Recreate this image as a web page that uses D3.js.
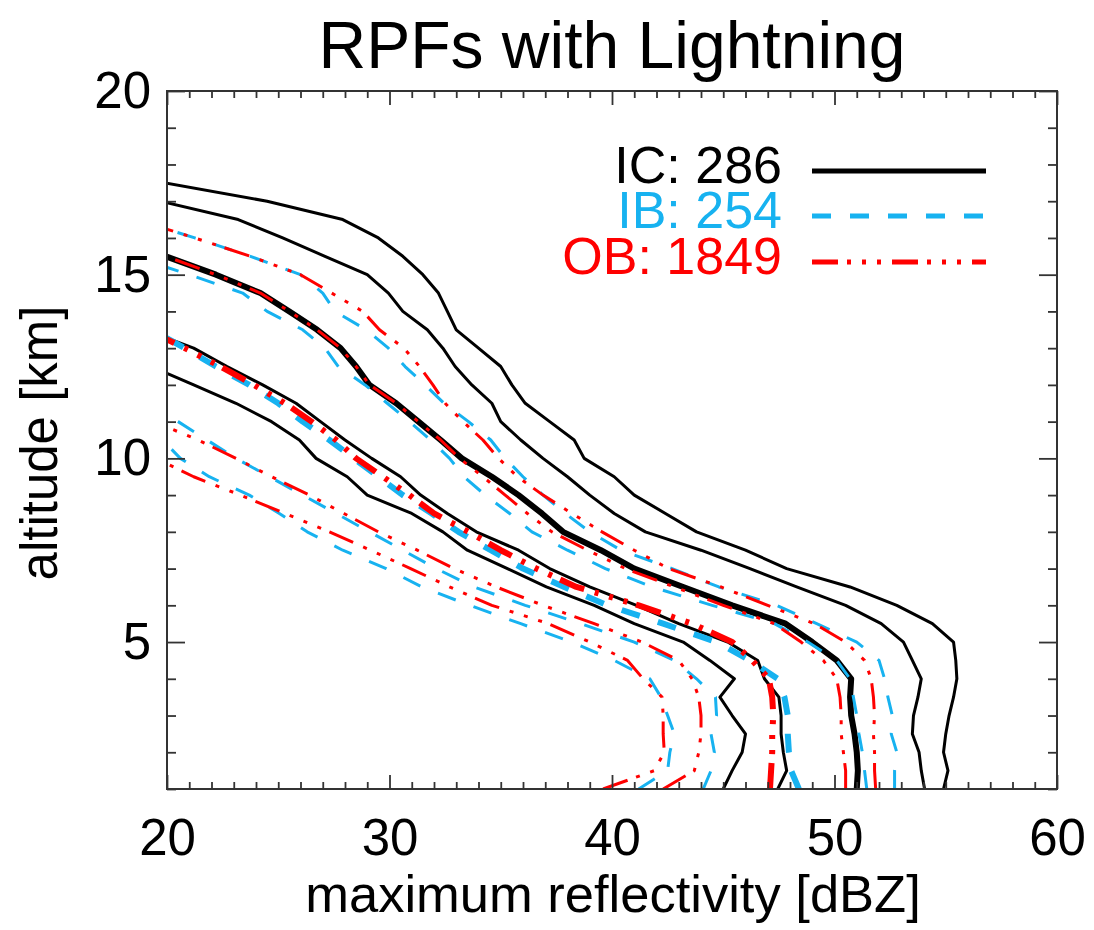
<!DOCTYPE html>
<html><head><meta charset="utf-8">
<script src="https://cdn.jsdelivr.net/npm/d3@7"></script>
<style>
html,body{margin:0;padding:0;background:#fff;}
svg{display:block;}
text{font-family:"Liberation Sans",Arial,Helvetica,sans-serif;}
</style></head><body>
<svg id="chart" width="1094" height="930"></svg>
<script>
// ---------------- data ----------------
const altitudes = [1,1.5,2,2.5,3,3.5,4,4.5,5,5.5,6,6.5,7,7.5,8,8.5,9,9.5,10,10.5,11,11.5,12,12.5,13,13.5,14,14.5,15,15.5,16,16.5,17,17.5];

// IC percentiles (dBZ at each altitude)
const ic90 = [54.9,55.1,54.9,55.0,55.15,55.35,55.5,55.45,55.35,54.4,52.8,50.7,47.85,46.0,43.8,42.4,41.0,40.1,38.75,38.3,37.2,36.1,35.5,35.0,34.0,33.0,32.6,32.2,31.5,30.6,29.5,27.9,24.5,19.9];
const ic75 = [54.05,53.9,53.8,53.5,53.55,53.75,53.9,53.5,53.1,52.1,50.5,48.3,46.2,44.0,41.5,40.1,39.0,38.0,36.9,35.9,35.0,34.6,33.7,32.95,32.4,31.7,30.6,29.95,29.0,27.1,25.2,23.2,19.7];
const ic50 = [51.0,51.05,51.0,50.9,50.75,50.7,50.75,50.1,49.0,47.8,45.4,43.2,41.0,39.5,37.8,36.85,35.8,34.6,33.25,32.3,31.3,30.3,29.1,28.5,27.8,26.75,25.5,24.2,22.2,19.95];
const ic25 = [47.45,47.85,47.7,47.6,47.6,47.5,46.85,46.55,45.2,43.0,41.1,39.0,37.2,35.8,33.9,32.6,31.4,30.5,29.2,28.0,26.9,25.8,24.3,22.7,21.2,19.0];
const ic10 = [45.0,45.4,45.85,46.0,45.4,44.85,45.5,44.4,43.2,41.0,39.2,37.05,35.3,33.5,32.4,31.0,29.0,28.1,26.7,25.95,24.7,23.1,21.2,19.3];

// IB percentiles
const ib90 = [52.7,52.7,52.8,52.55,52.6,52.4,52.25,52.0,51.0,49.2,47.4,44.8,42.7,40.4,39.0,37.9,36.9,36.0,35.2,34.55,33.55,32.45,31.6,30.7,29.95,28.95,27.55,27.0,26.0,23.75,21.25,18.6];
const ib75 = [51.45,51.35,51.25,51.1,51.0,50.85,50.7,50.1,48.8,47.3,44.5,41.8,39.7,38.0,36.4,35.4,34.3,33.35,32.7,31.85,30.9,29.9,28.9,27.7,27.1,26.1,24.5,23.4,21.0,18.5];
const ib50 = [48.4,48.05,47.95,47.9,47.9,47.75,47.45,46.2,44.7,42.3,39.8,37.85,36.0,34.55,33.1,31.9,30.6,29.5,28.4,27.3,26.1,25.0,23.7,22.2,20.8,19.3];
const ib25 = [44.1,44.45,44.6,44.45,44.7,44.65,43.8,42.8,41.0,38.6,36.1,33.8,32.1,30.6,29.1,27.6,26.1,24.6,23.1,21.8,20.5,18.9];
const ib10 = [41.2,42.5,42.6,42.8,42.5,42.2,41.7,40.1,38.2,35.9,33.6,31.45,29.85,27.9,26.3,25.05,23.7,21.9,20.6,19.8];

// OB percentiles
const ob90 = [51.85,51.8,51.8,51.75,51.8,51.75,51.65,51.35,50.5,49.1,47.0,44.9,42.55,41.0,39.55,38.2,36.9,35.75,34.9,34.2,33.3,32.5,31.95,31.35,30.65,29.55,28.8,27.4,26.0,23.75,21.25,18.6];
const ob75 = [50.5,50.5,50.4,50.3,50.3,50.25,50.1,49.5,48.5,47.3,45.0,42.8,40.6,38.9,37.3,36.2,35.2,34.2,33.15,32.3,31.3,30.3,29.1,28.5,27.8,26.75,25.5,24.2,22.2,19.95];
const ob50 = [47.1,47.15,47.2,47.2,47.25,47.2,47.05,46.3,45.4,43.6,41.2,38.4,36.6,35.0,33.55,32.0,30.9,29.7,28.5,27.6,26.5,25.3,23.9,22.4,20.8,19.1];
const ob25 = [42.3,43.7,43.9,44.0,44.0,43.9,43.6,43.0,41.35,39.2,36.9,34.8,32.9,31.25,29.5,27.95,26.4,24.7,23.1,21.4,19.4];
const ob10 = [39.6,41.9,42.35,42.3,42.3,42.25,41.4,40.7,39.0,37.15,34.6,32.7,30.95,29.15,27.3,25.3,23.3,21.2,19.5];

const categories = ["IC","IB","OB"];
const counts = [286,254,1849];
const percentiles = [10,25,50,75,90];
const xTickValues = [20,30,40,50,60];
const yTickValues = [5,10,15,20];

// ---------------- layout / style ----------------
const plot = {left:167, right:1057, top:91, bottom:789};
const style = {
  IC:{color:"#000000", dash:null},
  IB:{color:"#17b2f0", dash:"19,19"},
  OB:{color:"#ff0000", dash:"26,9,4,11,4,11,4,11"}
};
const seriesByCat = {
  IC:[ic10,ic25,ic75,ic90,ic50],
  IB:[ib10,ib25,ib75,ib90,ib50],
  OB:[ob10,ob25,ob75,ob90,ob50]
};
const pctOrder = [10,25,75,90,50];

const svg = d3.select("#chart");
const x = d3.scaleLinear().domain([20,60]).range([plot.left, plot.right]);
const y = d3.scaleLinear().domain([1,20]).range([plot.bottom, plot.top]);

svg.append("defs").append("clipPath").attr("id","clip")
  .append("rect").attr("x",plot.left).attr("y",plot.top)
  .attr("width",plot.right-plot.left).attr("height",plot.bottom-plot.top);

// ---------------- curves ----------------
const line = d3.line()
  .defined(d => d[0] != null)
  .x(d => x(d[0])).y(d => y(d[1]));

const gCurves = svg.append("g").attr("clip-path","url(#clip)");
categories.forEach(cat => {
  seriesByCat[cat].forEach((vals,i) => {
    const pts = vals.map((v,j) => [v, altitudes[j]]);
    const p = gCurves.append("path")
      .attr("d", line(pts))
      .attr("fill","none")
      .attr("stroke", style[cat].color)
      .attr("stroke-width", pctOrder[i] === 50 ? 6 : 3)
      .attr("stroke-linejoin","round");
    if (style[cat].dash) p.attr("stroke-dasharray", style[cat].dash);
  });
});

// ---------------- axes ----------------
const xMinor = d3.range(20,61).filter(v => v % 10 !== 0);
const yMinor = d3.range(1,21).filter(v => v % 5 !== 0);
const tickColor = "#333";

function styleAxis(g){
  g.select(".domain").remove();
  g.selectAll(".tick line").attr("stroke",tickColor).attr("stroke-width",1.8);
}
// bottom
svg.append("g").attr("transform",`translate(0,${plot.bottom})`)
  .call(d3.axisBottom(x).tickValues(xTickValues).tickSize(-14).tickSizeOuter(0).tickPadding(30).tickFormat(d3.format("d")))
  .call(styleAxis)
  .call(g => g.selectAll("text").attr("font-size",51).attr("fill","#000"));
svg.append("g").attr("transform",`translate(0,${plot.bottom})`)
  .call(d3.axisBottom(x).tickValues(xMinor).tickSize(-7).tickSizeOuter(0).tickFormat(""))
  .call(styleAxis);
// top
svg.append("g").attr("transform",`translate(0,${plot.top})`)
  .call(d3.axisTop(x).tickValues(xTickValues).tickSize(-14).tickSizeOuter(0).tickFormat(""))
  .call(styleAxis);
svg.append("g").attr("transform",`translate(0,${plot.top})`)
  .call(d3.axisTop(x).tickValues(xMinor).tickSize(-7).tickSizeOuter(0).tickFormat(""))
  .call(styleAxis);
// left
svg.append("g").attr("transform",`translate(${plot.left},0)`)
  .call(d3.axisLeft(y).tickValues(yTickValues).tickSize(-18).tickSizeOuter(0).tickPadding(16).tickFormat(d3.format("d")))
  .call(styleAxis)
  .call(g => g.selectAll("text").attr("font-size",51).attr("fill","#000"));
svg.append("g").attr("transform",`translate(${plot.left},0)`)
  .call(d3.axisLeft(y).tickValues(yMinor).tickSize(-9).tickSizeOuter(0).tickFormat(""))
  .call(styleAxis);
// right
svg.append("g").attr("transform",`translate(${plot.right},0)`)
  .call(d3.axisRight(y).tickValues(yTickValues).tickSize(-18).tickSizeOuter(0).tickFormat(""))
  .call(styleAxis);
svg.append("g").attr("transform",`translate(${plot.right},0)`)
  .call(d3.axisRight(y).tickValues(yMinor).tickSize(-9).tickSizeOuter(0).tickFormat(""))
  .call(styleAxis);

// frame
svg.append("rect").attr("x",plot.left).attr("y",plot.top)
  .attr("width",plot.right-plot.left).attr("height",plot.bottom-plot.top)
  .attr("fill","none").attr("stroke",tickColor).attr("stroke-width",2);

// titles
svg.append("text").attr("x",612).attr("y",68).attr("text-anchor","middle")
  .attr("font-size",66).attr("fill","#000").text("RPFs with Lightning");
svg.append("text").attr("x",613).attr("y",912).attr("text-anchor","middle")
  .attr("font-size",52.5).attr("fill","#000").text("maximum reflectivity [dBZ]");
svg.append("text").attr("transform","translate(57,443) rotate(-90)").attr("text-anchor","middle")
  .attr("font-size",51).attr("fill","#000").text("altitude [km]");

// legend
const legendY = [171,216,262];
categories.forEach((cat,i) => {
  svg.append("text").attr("x",782).attr("y",legendY[i]+11.5)
    .attr("text-anchor","end").attr("font-size",52)
    .attr("fill",style[cat].color).text(`${cat}: ${counts[i]}`);
  const l = svg.append("line").attr("x1",812).attr("x2",986)
    .attr("y1",legendY[i]).attr("y2",legendY[i])
    .attr("stroke",style[cat].color).attr("stroke-width",5);
  if (style[cat].dash) l.attr("stroke-dasharray",style[cat].dash);
});
</script>
</body></html>
